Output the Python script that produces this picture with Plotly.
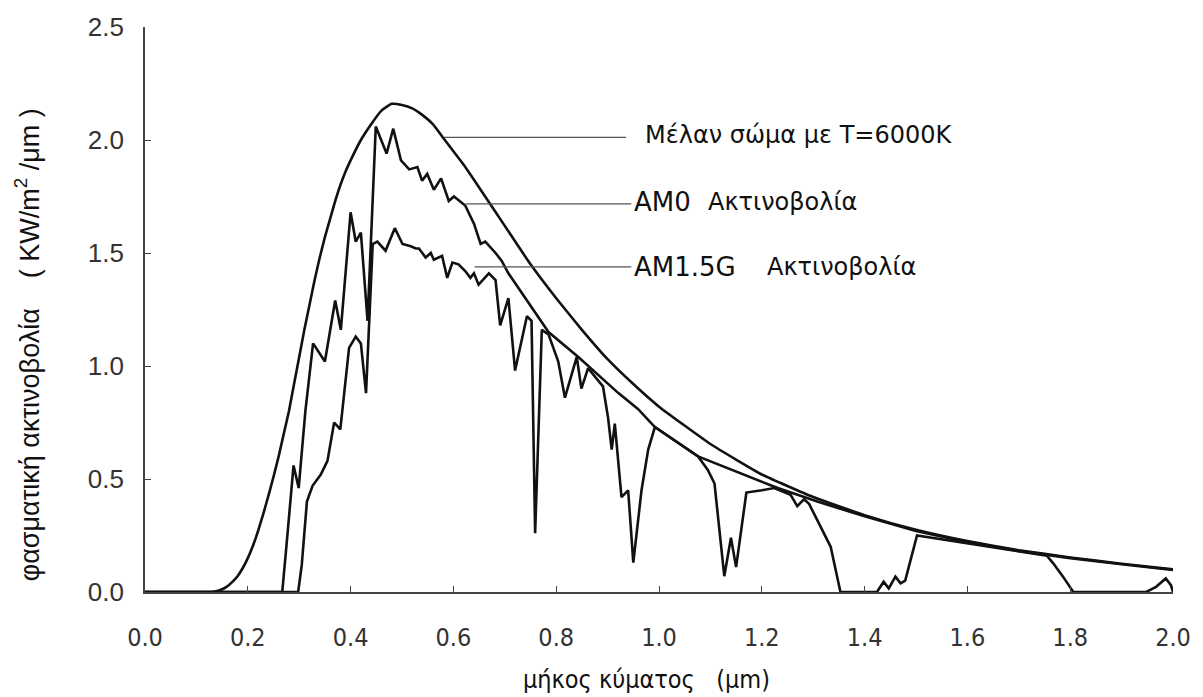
import plotly.graph_objects as go

# ---- data ----
bb_wl = [0.00, 0.13, 0.14, 0.15, 0.16, 0.17, 0.18, 0.19, 0.20, 0.21, 0.22, 0.23, 0.24,
         0.25, 0.26, 0.27, 0.28, 0.29, 0.30, 0.31, 0.32, 0.33, 0.34, 0.35, 0.36, 0.37,
         0.38, 0.39, 0.40, 0.42, 0.44, 0.46, 0.48, 0.50, 0.52, 0.54, 0.56, 0.58, 0.60,
         0.62, 0.65, 0.70, 0.75, 0.80, 0.85, 0.90, 0.95, 1.00, 1.10, 1.20, 1.30, 1.40,
         1.50, 1.60, 1.70, 1.80, 1.90, 2.00]
bb_val = [0.0, 0.0, 0.004, 0.012, 0.025, 0.045, 0.07, 0.105, 0.15, 0.205, 0.27, 0.345, 0.425,
          0.51, 0.60, 0.70, 0.80, 0.92, 1.04, 1.16, 1.27, 1.38, 1.48, 1.57, 1.65, 1.73,
          1.80, 1.86, 1.91, 2.00, 2.07, 2.13, 2.16, 2.155, 2.14, 2.11, 2.07, 2.01, 1.95,
          1.89, 1.79, 1.62, 1.45, 1.30, 1.16, 1.03, 0.92, 0.82, 0.655, 0.52, 0.42, 0.34,
          0.275, 0.225, 0.185, 0.153, 0.125, 0.100]

am0_wl = [0.00, 0.267, 0.275, 0.289, 0.299, 0.312, 0.327, 0.350, 0.370, 0.381, 0.400,
          0.410, 0.420, 0.433, 0.449, 0.470, 0.483, 0.498, 0.514, 0.530, 0.539, 0.549,
          0.562, 0.576, 0.591, 0.601, 0.623, 0.640, 0.653, 0.662, 0.682, 0.694, 0.707,
          0.746, 0.785, 0.843, 0.888, 0.921, 0.959, 0.992, 1.076, 1.166, 1.231, 1.308,
          1.40, 1.50, 1.60, 1.70, 1.80, 1.90, 2.00]
am0_val = [0.0, 0.0, 0.20, 0.56, 0.46, 0.80, 1.10, 1.02, 1.29, 1.16, 1.68,
           1.55, 1.59, 1.20, 2.06, 1.94, 2.05, 1.91, 1.87, 1.88, 1.82, 1.85,
           1.78, 1.83, 1.73, 1.75, 1.71, 1.63, 1.54, 1.55, 1.50, 1.465, 1.41,
           1.28, 1.15, 1.04, 0.95, 0.88, 0.81, 0.73, 0.60, 0.52, 0.46, 0.40,
           0.335, 0.27, 0.22, 0.182, 0.150, 0.123, 0.098]

am15_wl = [0.00, 0.298, 0.305, 0.315, 0.326, 0.342, 0.355, 0.368, 0.380, 0.397, 0.410,
           0.420, 0.430, 0.443, 0.452, 0.468, 0.486, 0.501, 0.517, 0.527, 0.533, 0.546,
           0.556, 0.562, 0.578, 0.588, 0.598, 0.610, 0.623, 0.633, 0.640, 0.649, 0.669,
           0.682, 0.691, 0.707, 0.720, 0.743, 0.752, 0.759, 0.772, 0.785, 0.804, 0.817,
           0.840, 0.849, 0.862, 0.879, 0.891, 0.901, 0.908, 0.914, 0.927, 0.940, 0.950,
           0.966, 0.979, 0.992, 1.076, 1.095, 1.108, 1.127, 1.140, 1.150, 1.170, 1.200,
           1.224, 1.256, 1.269, 1.282, 1.292, 1.334, 1.353, 1.424, 1.437, 1.447, 1.460,
           1.470, 1.479, 1.502, 1.60, 1.70, 1.755, 1.767, 1.786, 1.806, 1.948, 1.967,
           1.986, 1.996, 2.00]
am15_val = [0.0, 0.0, 0.12, 0.40, 0.47, 0.52, 0.58, 0.75, 0.72, 1.08, 1.13,
            1.10, 0.88, 1.54, 1.55, 1.51, 1.61, 1.54, 1.53, 1.52, 1.52, 1.48,
            1.50, 1.47, 1.487, 1.39, 1.458, 1.45, 1.42, 1.39, 1.41, 1.36, 1.41,
            1.38, 1.18, 1.30, 0.98, 1.22, 1.20, 0.26, 1.16, 1.14, 1.02, 0.86,
            1.04, 0.90, 0.99, 0.94, 0.91, 0.77, 0.63, 0.745, 0.42, 0.45, 0.13,
            0.45, 0.63, 0.73, 0.60, 0.54, 0.48, 0.07, 0.24, 0.11, 0.44, 0.45,
            0.46, 0.43, 0.38, 0.41, 0.39, 0.20, 0.0, 0.0, 0.045, 0.016, 0.068,
            0.038, 0.05, 0.25, 0.215, 0.18, 0.16, 0.127, 0.068, 0.0, 0.0, 0.023,
            0.06, 0.03, 0.0]

x_ticks = [0.0, 0.2, 0.4, 0.6, 0.8, 1.0, 1.2, 1.4, 1.6, 1.8, 2.0]
y_ticks = [0.0, 0.5, 1.0, 1.5, 2.0, 2.5]

labels = ["Μέλαν σώμα με T=6000K", "AM0", "AM1.5G"]
label_word = "Ακτινοβολία"
x_title = "μήκος κύματος   (μm)"
y_title = "φασματική ακτινοβολία    ( KW/m<sup>2</sup> /μm )"

# leader lines (data coords): start x, end x, y
leaders = [(0.581, 0.936, 2.012), (0.624, 0.946, 1.717), (0.641, 0.946, 1.439)]

LINE = dict(color="#111111", width=2.6)
fig = go.Figure()
fig.add_trace(go.Scatter(x=bb_wl, y=bb_val, mode="lines", line=dict(LINE, shape="spline", smoothing=0.4)))
fig.add_trace(go.Scatter(x=am0_wl, y=am0_val, mode="lines", line=LINE))
fig.add_trace(go.Scatter(x=am15_wl, y=am15_val, mode="lines", line=LINE))

for x0, x1, y in leaders:
    fig.add_shape(type="line", x0=x0, x1=x1, y0=y, y1=y, xref="x", yref="y",
                  line=dict(color="#555555", width=1.2))

FONT = "Liberation Sans, Arial, sans-serif"
WIDE = "DejaVu Sans, Verdana, sans-serif"
NARROW = "Liberation Sans Narrow, DejaVu Sans Condensed, Liberation Sans, sans-serif"
ann = [
    dict(x=0.969, y=2.02, text=labels[0], size=24),
    dict(x=0.948, y=1.725, text=labels[1], size=26),
    dict(x=1.091, y=1.725, text=label_word, size=24),
    dict(x=0.948, y=1.44, text=labels[2], size=26),
    dict(x=1.207, y=1.44, text=label_word, size=24),
]
for a in ann:
    fig.add_annotation(x=a["x"], y=a["y"], text=a["text"], xref="x", yref="y",
                       xanchor="left", yanchor="middle", showarrow=False,
                       font=dict(family=WIDE, size=a["size"], color="#111111"))

fig.add_annotation(x=0.975, y=-0.155, xref="x", yref="paper", text=x_title,
                   showarrow=False, xanchor="center", yanchor="middle",
                   font=dict(family=NARROW, size=25, color="#111111"))
fig.add_annotation(x=-0.115, y=0.438, xref="paper", yref="paper", text=y_title,
                   showarrow=False, textangle=-90, xanchor="center", yanchor="middle",
                   font=dict(family=FONT, size=27, color="#111111"))

fig.update_layout(
    width=1203, height=697,
    margin=dict(l=145, r=26, t=26, b=105),
    paper_bgcolor="white", plot_bgcolor="white",
    showlegend=False,
    xaxis=dict(range=[0, 2.0], tickvals=x_ticks, tickformat=".1f",
               showline=True, linecolor="#444444", linewidth=1.6,
               ticks="inside", ticklen=6, tickcolor="#444444", tickwidth=1.2,
               showgrid=False, zeroline=False, ticklabelstandoff=22,
               tickfont=dict(family=NARROW, size=25, color="#333333")),
    yaxis=dict(range=[0, 2.5], tickvals=y_ticks, tickformat=".1f",
               showline=True, linecolor="#444444", linewidth=1.6,
               ticks="inside", ticklen=6, tickcolor="#444444", tickwidth=1.2,
               showgrid=False, zeroline=False, ticklabelstandoff=14,
               tickfont=dict(family=FONT, size=26, color="#333333")),
)

fig.write_html("out.html")
